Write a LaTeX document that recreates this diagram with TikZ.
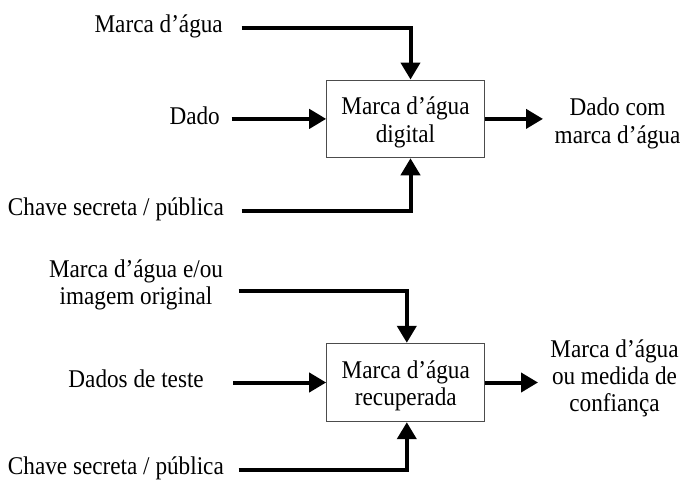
\documentclass[tikz,border=0pt]{standalone}
\usepackage{fontspec}
\setmainfont[FakeStretch=0.91]{Liberation Serif}
\usetikzlibrary{arrows.meta}
\newcommand{\mlines}[1]{\begin{tabular}[t]{@{}c@{}}#1\end{tabular}}
\tikzset{
  blockbox/.style={draw=black!70, line width=1pt, fill=white, minimum width=157.6pt, minimum height=77.7pt, inner sep=0pt},
  lbl/.style={inner sep=0pt},
  conn/.style={line width=4pt, line join=miter, -{Triangle[length=17pt,width=19pt]}},
}
\begin{document}
\begin{tikzpicture}[x=1pt, y=-1pt, font=\fontsize{25.5pt}{27.3pt}\selectfont]
\useasboundingbox (0,0) rectangle (684,481);
% ---- top block ----
\node[blockbox] (b1) at (405.5,118.9) {};
\node[lbl, anchor=base] (t1) at (405.5,115) {\mlines{Marca d’água\\digital}};
\node[lbl, anchor=base east] (l1) at (223,33) {Marca d’água};
\node[lbl, anchor=base east] (l2) at (220,125) {Dado};
\node[lbl, anchor=base east] (l3) at (224,215) {Chave secreta / pública};
\node[lbl, anchor=base] (r1) at (617.5,116) {\mlines{Dado com\\marca d’água}};
\coordinate (s1) at (241.5,28);
\coordinate (s2) at (231.5,118.9);
\coordinate (s3) at (241.5,210.5);
\coordinate (o1) at (543,118.9);
\draw[conn] (s1) -| ([xshift=5pt]b1.north);
\draw[conn] (s2) -- (b1.west);
\draw[conn] (s3) -| ([xshift=5pt]b1.south);
\draw[conn] (b1.east) -- (o1);
% ---- bottom block ----
\node[blockbox, minimum width=158.3pt, minimum height=78.4pt] (b2) at (405.8,382.5) {};
\node[lbl, anchor=base] (t2) at (405.8,378) {\mlines{Marca d’água\\recuperada}};
\node[lbl, anchor=base] (l4) at (136,277) {\mlines{Marca d’água e/ou\\imagem original}};
\node[lbl, anchor=base east] (l5) at (204,387) {Dados de teste};
\node[lbl, anchor=base east] (l6) at (224,474) {Chave secreta / pública};
\node[lbl, anchor=base] (r2) at (614.5,357) {\mlines{Marca d’água\\ou medida de\\confiança}};
\coordinate (s4) at (238.5,290.5);
\coordinate (s5) at (233,382.5);
\coordinate (s6) at (238.5,469.5);
\coordinate (o2) at (538,382.5);
\draw[conn] (s4) -| ([xshift=1pt]b2.north);
\draw[conn] (s5) -- (b2.west);
\draw[conn] (s6) -| ([xshift=1pt]b2.south);
\draw[conn] (b2.east) -- (o2);
\end{tikzpicture}
\end{document}
